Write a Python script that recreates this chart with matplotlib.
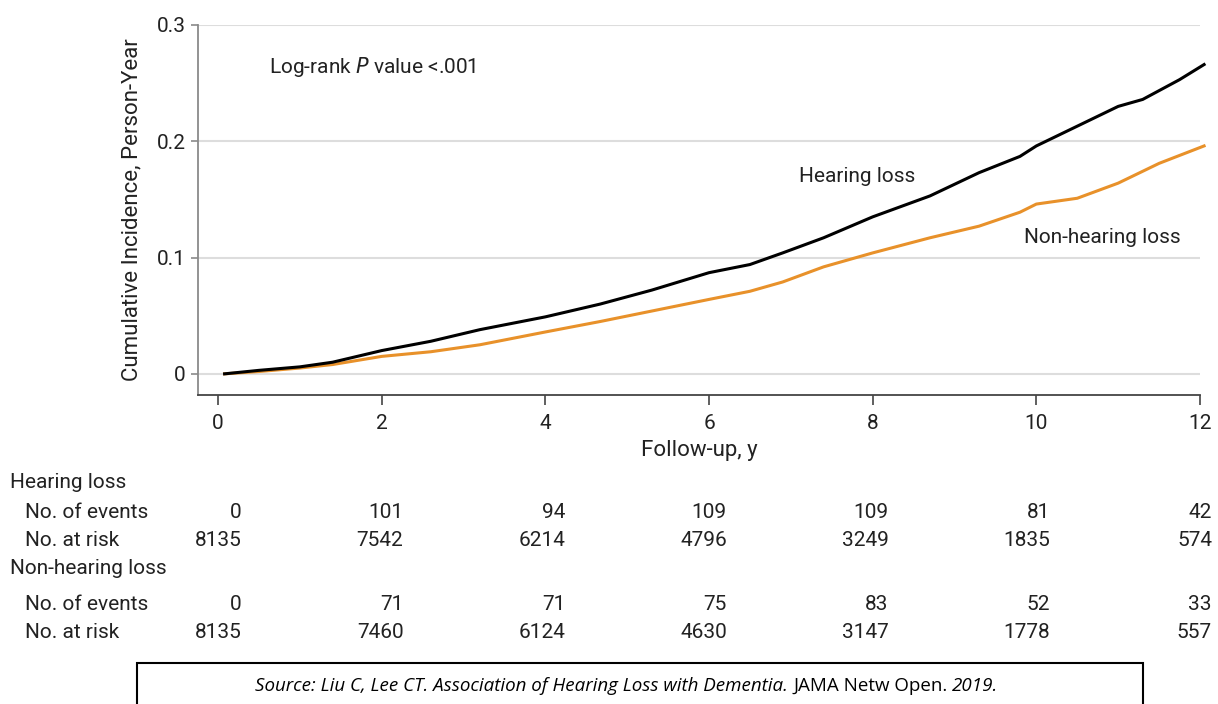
import matplotlib
matplotlib.use('Agg')
import matplotlib.pyplot as plt
from matplotlib import font_manager
from matplotlib.patches import Rectangle
import matplotlib.transforms as mtransforms

# pick a sans that is installed
names = {f.name for f in font_manager.fontManager.ttflist}
FONT = 'DejaVu Sans'
for cand in ['Roboto', 'Lato', 'Open Sans']:
    if cand in names:
        FONT = cand
        break
plt.rcParams['font.family'] = [FONT, 'DejaVu Sans']

# curve readings (years, cumulative incidence)
hl_t = [0.08, 0.5, 1.0, 1.4, 2.0, 2.6, 3.2, 4.0, 4.67, 5.3, 6.0, 6.5, 6.9, 7.4, 8.0, 8.7, 9.3, 9.8, 10.0, 10.5, 11.0, 11.3, 11.75, 12.05]
hl_y = [0.0, 0.003, 0.006, 0.010, 0.020, 0.028, 0.038, 0.049, 0.060, 0.072, 0.087, 0.094, 0.104, 0.117, 0.135, 0.153, 0.173, 0.187, 0.196, 0.213, 0.230, 0.236, 0.253, 0.266]
nhl_t = [0.08, 0.5, 1.0, 1.4, 2.0, 2.6, 3.2, 4.0, 4.67, 5.3, 6.0, 6.5, 6.9, 7.4, 8.0, 8.7, 9.3, 9.8, 10.0, 10.5, 11.0, 11.5, 12.05]
nhl_y = [0.0, 0.002, 0.005, 0.008, 0.015, 0.019, 0.025, 0.036, 0.045, 0.054, 0.064, 0.071, 0.079, 0.092, 0.104, 0.117, 0.127, 0.139, 0.146, 0.151, 0.164, 0.181, 0.196]

# risk table
table_t = [0, 2, 4, 6, 8, 10, 12]
hl_events = [0, 101, 94, 109, 109, 81, 42]
hl_risk = [8135, 7542, 6214, 4796, 3249, 1835, 574]
nhl_events = [0, 71, 71, 75, 83, 52, 33]
nhl_risk = [8135, 7460, 6124, 4630, 3147, 1778, 557]

W, H = 1218, 704
fig = plt.figure(figsize=(W / 100, H / 100), dpi=100)
ax = fig.add_axes([198 / W, 1 - 395 / H, 1002 / W, 370 / H])

txt = '#222222'
orange = '#e8912a'

ax.plot(nhl_t, nhl_y, color=orange, lw=2.2, clip_on=False, zorder=3)
ax.plot(hl_t, hl_y, color='black', lw=2.2, clip_on=False, zorder=4)

ax.set_xlim(-0.245, 12.0)
ax.set_ylim(-0.0182, 0.3)
ax.set_xticks(range(0, 13, 2))
ax.set_yticks([0, 0.1, 0.2, 0.3])
ax.set_yticklabels(['0', '0.1', '0.2', '0.3'])
ax.yaxis.grid(True, color='#dddddd', lw=1.5)
ax.set_axisbelow(True)
for s in ['top', 'right']:
    ax.spines[s].set_visible(False)
ax.spines['left'].set_color('#8a8a8a')
ax.spines['bottom'].set_color('#444444')
ax.spines['left'].set_linewidth(1.3)
ax.spines['bottom'].set_linewidth(1.3)
ax.tick_params(axis='y', colors='#8a8a8a', labelcolor=txt, length=5, width=1.2, labelsize=15, pad=4)
ax.tick_params(axis='x', colors='#444444', labelcolor=txt, length=7, width=1.2, labelsize=15, pad=7)

ax.set_xlabel('Follow-up, y', fontsize=16, color=txt, labelpad=5)
ax.set_ylabel('Cumulative Incidence, Person-Year', fontsize=16, color=txt, labelpad=10)

ax.text(0.62, 0.264, 'Log-rank $\\mathit{P}$ value <.001', fontsize=15, color=txt, va='center')
ax.text(7.1, 0.170, 'Hearing loss', fontsize=15, color=txt, va='center')
ax.text(9.85, 0.117, 'Non-hearing loss', fontsize=15, color=txt, va='center')

# number at risk table
tr = mtransforms.blended_transform_factory(ax.transData, fig.transFigure)
rows = [
    ('Hearing loss', None, 482, 10),
    ('No. of events', hl_events, 512, 25),
    ('No. at risk', hl_risk, 540, 25),
    ('Non-hearing loss', None, 568, 10),
    ('No. of events', nhl_events, 605, 25),
    ('No. at risk', nhl_risk, 633, 25),
]
for label, vals, ypx, xpx in rows:
    fig.text(xpx / W, 1 - ypx / H, label, fontsize=15, color=txt, va='center')
    if vals is None:
        continue
    for t, v in zip(table_t, vals):
        fig.text(0.29 + t * 0.988, 1 - ypx / H, str(v), fontsize=15, color=txt,
                 va='center', ha='right', transform=tr)

# source box
fig.patches.append(Rectangle((137 / W, -0.02), (1143 - 137) / W, 0.02 + (704 - 663) / H,
                             transform=fig.transFigure, fill=False, edgecolor='black', lw=1.5))
parts = [('Source: Liu C, Lee CT. Association of Hearing Loss with Dementia. ', 'italic'),
         ('JAMA Netw Open. ', 'normal'),
         ('2019.', 'italic')]
fig.canvas.draw()
r = fig.canvas.get_renderer()
objs = []
for s, st in parts:
    objs.append(fig.text(0, 1 - 686 / H, s, fontsize=13.5, style=st, color='black',
                         va='center', family=['Open Sans', 'DejaVu Sans']))
widths = [o.get_window_extent(r).width for o in objs]
x0 = 627 - sum(widths) / 2
for o, w in zip(objs, widths):
    o.set_x(x0 / W)
    x0 += w

fig.savefig('out.png', dpi=100)
